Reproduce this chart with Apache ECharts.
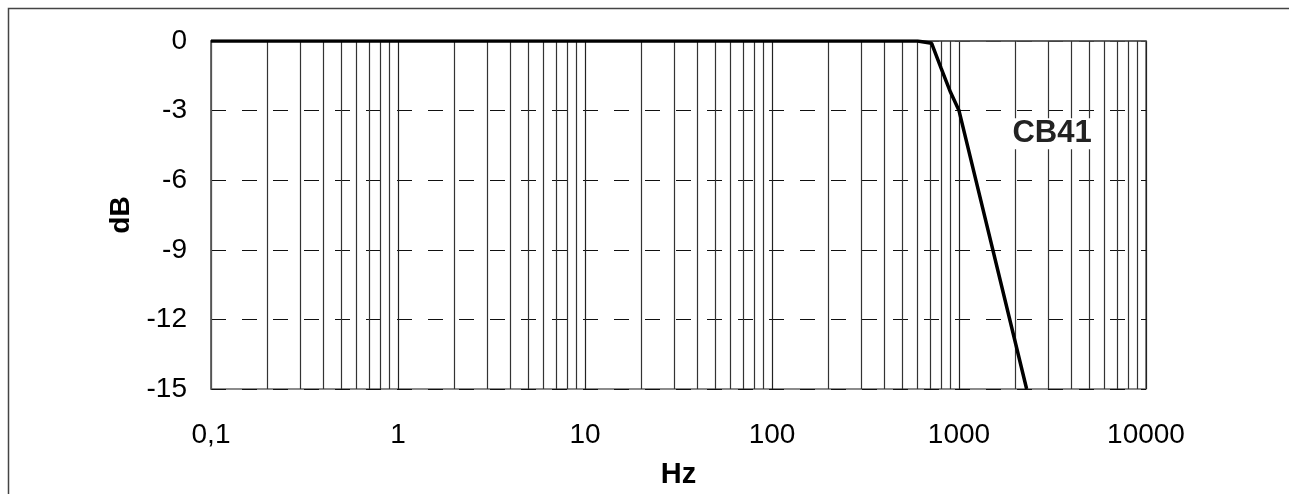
<!DOCTYPE html>
<html>
<head>
<meta charset="utf-8">
<script src="https://cdn.jsdelivr.net/npm/echarts@6/dist/echarts.min.js"></script>
<style>
html,body{margin:0;padding:0;background:#fff;}
#c{width:1289px;height:494px;}
</style>
</head>
<body>
<div id="c"></div>
<script>
// Frequency response data (Hz, dB)
var freqHz = [0.1, 100, 600, 714, 800, 900, 1000, 2300];
var gainDb = [0, 0, 0, -0.1, -1.15, -2.2, -3, -15];
var seriesName = 'CB41';
var labelPos = [1920, -4];
var yTicks = [-15, -12, -9, -6, -3, 0];
var decades = [0.1, 1, 10, 100, 1000, 10000];
var minorMultipliers = [2, 3, 4, 5, 6, 7, 8, 9];

var minorLines = [];
for (var d = 0; d < decades.length - 1; d++) {
  for (var m = 0; m < minorMultipliers.length; m++) {
    minorLines.push({ xAxis: +(decades[d] * minorMultipliers[m]).toPrecision(6) });
  }
}

var font = 'Liberation Sans, Arial, sans-serif';
var chart = echarts.init(document.getElementById('c'), null, { renderer: 'canvas' });
chart.setOption({
  animation: false,
  backgroundColor: '#fff',
  graphic: [{
    type: 'rect',
    shape: { x: 8.5, y: 8.5, width: 1400, height: 600 },
    style: { fill: 'none', stroke: '#444', lineWidth: 1.5 },
    silent: true
  }],
  grid: {
    left: 211, right: 143, top: 41, bottom: 102,
    show: true, borderColor: '#666', borderWidth: 1.5, backgroundColor: '#fff'
  },
  xAxis: {
    type: 'log', logBase: 10, min: decades[0], max: decades[decades.length - 1],
    name: 'Hz', nameLocation: 'middle', nameGap: 71,
    nameTextStyle: { fontFamily: font, fontSize: 29, fontWeight: 'bold', color: '#000' },
    axisLine: { show: true, lineStyle: { color: '#555', width: 1.5 } },
    axisTick: { show: false },
    axisLabel: {
      margin: 32, fontFamily: font, fontSize: 28, color: '#000',
      formatter: function (v) { return v < 1 ? String(+v.toPrecision(6)).replace('.', ',') : String(Math.round(v)); }
    },
    splitLine: { show: true, lineStyle: { color: '#222', width: 1.2, type: 'solid' } },
    minorTick: { show: false }, minorSplitLine: { show: false }
  },
  yAxis: {
    type: 'value', min: yTicks[0], max: yTicks[yTicks.length - 1], interval: 3,
    name: 'dB', nameLocation: 'middle', nameGap: 72,
    nameTextStyle: { fontFamily: font, fontSize: 28, fontWeight: 'bold', color: '#000' },
    axisLine: { show: true, lineStyle: { color: '#666', width: 1.5 } },
    axisTick: { show: false },
    axisLabel: { margin: 24, fontFamily: font, fontSize: 28, color: '#000' },
    splitLine: { show: true, lineStyle: { color: '#111', width: 1.2, type: [15, 16] } }
  },
  series: [{
    name: seriesName,
    type: 'line',
    data: freqHz.map(function (f, i) { return [f, gainDb[i]]; }),
    showSymbol: false,
    symbol: 'none',
    lineStyle: { color: '#000', width: 3.5 },
    z: 5,
    markLine: {
      silent: true, symbol: ['none', 'none'], label: { show: false },
      lineStyle: { color: '#333', width: 1.2, type: 'solid' },
      emphasis: { disabled: true },
      data: minorLines
    },
    markPoint: {
      silent: true,
      symbol: 'circle', symbolSize: 1,
      itemStyle: { color: 'rgba(0,0,0,0)' },
      label: {
        show: true, position: 'right', distance: 0,
        formatter: seriesName,
        fontFamily: font, fontSize: 31, fontWeight: 'bold', color: '#222',
        backgroundColor: '#fff'
      },
      data: [{ coord: labelPos }]
    }
  }]
});
</script>
</body>
</html>
